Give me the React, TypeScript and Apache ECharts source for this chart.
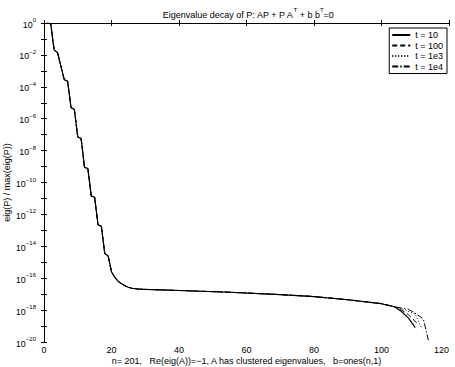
import React, { useEffect, useRef } from "react";
import * as echarts from "echarts";

// eigenvalue index (shared part of all four curves)
const idx = [1, 2, 3, 4, 5, 6, 7, 8, 9, 10, 11, 12, 13, 14, 15, 16, 17, 18, 19, 20, 21, 22, 23, 24, 25, 26, 28, 30, 40, 55, 70, 80, 90, 100, 104];
// log10( eig(P) / max(eig(P)) ) for the shared part
const commonLog = [0, -0.05, -1.7, -1.85, -2.7, -3.55, -3.65, -5.3, -5.42, -7.15, -7.25, -9.05, -9.12, -10.85, -10.92, -12.65, -12.75, -14.45, -14.6, -15.6, -15.95, -16.2, -16.35, -16.48, -16.57, -16.63, -16.68, -16.7, -16.77, -16.88, -17.03, -17.15, -17.35, -17.6, -17.8];

// tails where the curves split
const tailX10 = [106, 108, 110];
const tailY10 = [-18.1, -18.5, -19.1];
const tailX100 = [106, 108, 110.7];
const tailY100 = [-18.0, -18.3, -18.85];
const tailX1e3 = [107, 110, 112];
const tailY1e3 = [-18.0, -18.25, -19.2];
const tailX1e4 = [108, 110.4, 112.4, 113.9];
const tailY1e4 = [-17.95, -18.25, -18.56, -19.9];

const seriesNames = ["t = 10", "t = 100", "t = 1e3", "t = 1e4"];
const xTicks = [0, 20, 40, 60, 80, 100, 120];

const FONT = "Liberation Sans, Arial, Helvetica, sans-serif";

function build(tx: number[], ty: number[]) {
  const d: number[][] = idx.map((x, i) => [x, commonLog[i]]);
  tx.forEach((x, i) => d.push([x, ty[i]]));
  return d;
}

export default function App() {
  const ref = useRef<HTMLDivElement>(null);
  useEffect(() => {
    if (!ref.current) return;
    const chart = echarts.init(ref.current, null, { renderer: "svg" });
    const styles = [
      { type: "solid" as any, width: 1.2 },
      { type: [5, 3] as any, width: 1 },
      { type: [1, 2] as any, width: 0.9 },
      { type: [6, 2, 1.5, 2] as any, width: 1 },
    ];
    const tails = [
      [tailX10, tailY10],
      [tailX100, tailY100],
      [tailX1e3, tailY1e3],
      [tailX1e4, tailY1e4],
    ];
    const sup = {
      b: { fontSize: 9, fontFamily: FONT, color: "#000", lineHeight: 12, verticalAlign: "bottom" },
      e: { fontSize: 6, fontFamily: FONT, color: "#000", lineHeight: 12, verticalAlign: "top" },
    };
    const yLabel = (v: number) => {
      if (Math.round(v) % 2 !== 0) return "";
      const k = Math.round(v);
      return `{b|10}{e|${k === 0 ? "0" : "\u2212" + -k}}`;
    };
    const common = {
      axisLine: { show: true, lineStyle: { color: "#000", width: 1 } },
      axisTick: { show: true, inside: true, length: 3, lineStyle: { color: "#000" } },
      splitLine: { show: false },
    };
    chart.setOption({
      animation: false,
      backgroundColor: "#fff",
      grid: { left: 44, right: 6, top: 23, bottom: 25, containLabel: false, outerBoundsMode: "none" },
      graphic: [
        {
          type: "text",
          x: 248,
          y: 7,
          style: {
            text: "{t|Eigenvalue decay of P: AP + P A}{s|T}{t| + b b}{s|T}{t|=0}",
            align: "center",
            rich: {
              t: { fontSize: 9, fontFamily: FONT, color: "#000", lineHeight: 12, verticalAlign: "bottom" },
              s: { fontSize: 6, fontFamily: FONT, color: "#000", lineHeight: 12, verticalAlign: "top" },
            },
          },
        },
      ],
      legend: {
        orient: "vertical",
        right: 8,
        top: 28,
        data: seriesNames,
        backgroundColor: "#fff",
        borderColor: "#000",
        borderWidth: 1,
        borderRadius: 0,
        padding: [2, 4, 2, 2],
        itemWidth: 18,
        itemHeight: 8,
        itemGap: 0.5,
        itemStyle: { color: "rgba(0,0,0,0)", borderWidth: 0, opacity: 0 },
        textStyle: { fontSize: 9, fontFamily: FONT, color: "#000", lineHeight: 10, padding: [0, 0, 0, 0] },
      },
      xAxis: [
        {
          type: "value",
          min: 0,
          max: 120,
          interval: 20,
          position: "bottom",
          ...common,
          axisLabel: {
            fontSize: 9,
            fontFamily: FONT,
            color: "#000",
            margin: 3,
            alignMaxLabel: "right",
            formatter: (v: number) => (xTicks.includes(v) ? String(v) : ""),
          },
          name: "n= 201,   Re(eig(A))=\u22121, A has clustered eigenvalues,   b=ones(n,1)",
          nameLocation: "middle",
          nameGap: 14,
          nameMoveOverlap: false,
          nameTextStyle: { fontSize: 9, fontFamily: FONT, color: "#000", verticalAlign: "top" },
        },
        {
          type: "value",
          min: 0,
          max: 120,
          interval: 20,
          position: "top",
          ...common,
          axisLabel: { show: false },
        },
      ],
      yAxis: [
        {
          type: "value",
          min: -20,
          max: 0,
          interval: 1,
          position: "left",
          ...common,
          axisLabel: { formatter: yLabel, margin: 8, rich: sup },
          name: "eig(P) / max(eig(P))",
          nameLocation: "middle",
          nameGap: 33,
          nameMoveOverlap: false,
          nameRotate: 90,
          nameTextStyle: { fontSize: 9, fontFamily: FONT, color: "#000" },
        },
        {
          type: "value",
          min: -20,
          max: 0,
          interval: 1,
          position: "right",
          ...common,
          axisLabel: { show: false },
        },
      ],
      series: seriesNames.map((name, i) => ({
        name,
        type: "line",
        xAxisIndex: 0,
        yAxisIndex: 0,
        showSymbol: false,
        symbol: "none",
        data: build(tails[i][0], tails[i][1]),
        lineStyle: { color: "#000", ...styles[i] },
        itemStyle: { color: "#000" },
        z: 10 - i,
      })),
    });
    return () => chart.dispose();
  }, []);
  return <div ref={ref} style={{ position: "fixed", left: 0, top: 0, width: 455, height: 367, background: "#fff" }} />;
}
